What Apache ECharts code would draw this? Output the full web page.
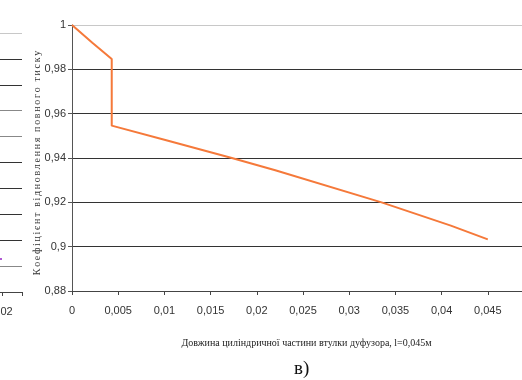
<!DOCTYPE html>
<html>
<head>
<meta charset="utf-8">
<script src="https://cdn.jsdelivr.net/npm/echarts@6/dist/echarts.min.js"></script>
<style>html,body{margin:0;padding:0;background:#fff}#c{width:522px;height:380px}</style>
</head>
<body>
<div id="c"></div>
<script>
// Main series: length of cylindrical part (m) vs total pressure recovery coefficient
var xValues = [0, 0.0022, 0.0043, 0.0043, 0.01, 0.0173, 0.022, 0.0335, 0.041, 0.045];
var yValues = [1, 0.992, 0.9847, 0.9546, 0.9482, 0.94, 0.9345, 0.92, 0.9095, 0.9033];
var yTicks = [0.88, 0.9, 0.92, 0.94, 0.96, 0.98, 1];
var xTicks = [0, 0.005, 0.01, 0.015, 0.02, 0.025, 0.03, 0.035, 0.04, 0.045];
// Fragment of the neighbouring chart (left edge)
var leftXTicks = [0.02];
var leftPoint = [[0.0199, 1.27]];

var yAxisName = 'Коефіцієнт відновлення повного тиску';
var xAxisName = 'Довжина циліндричної частини втулки дуфузора, l=0,045м';
var panelLabel = 'в)';

function fmt(v){ return String(parseFloat(Number(v).toFixed(4))).replace('.', ','); }
function spaced(s){ return s.split('').join('\u200A\u200A'); }

var mainData = xValues.map(function(x, i){ return [x, yValues[i]]; });

var chart = echarts.init(document.getElementById('c'), null, {renderer:'canvas'});
var labelFont = {fontFamily:'"Liberation Sans Narrow","Liberation Sans",Arial,sans-serif', fontSize:11, color:'#333'};
chart.setOption({
  animation:false,
  backgroundColor:'#fff',
  title:{text:panelLabel, left:289, top:355, textStyle:{fontFamily:'"Liberation Serif","DejaVu Serif",serif', fontSize:19, fontWeight:'normal', color:'#111'}},
  grid:[
    {left:72, top:25, width:462, height:266, containLabel:false, outerBoundsMode:'none'},
    {left:-198, top:33, width:220, height:259, containLabel:false, outerBoundsMode:'none'}
  ],
  xAxis:[
    {type:'value', gridIndex:0, min:0, max:0.05, interval:0.005,
     name:xAxisName, nameLocation:'middle', nameGap:47,
     nameTextStyle:{fontFamily:'"Liberation Serif","DejaVu Serif",serif', fontSize:10, color:'#222', padding:[0,0,0,7]},
     axisLine:{lineStyle:{color:'#444', width:1}},
     axisTick:{show:true, inside:false, length:4, lineStyle:{color:'#444'}},
     axisLabel:Object.assign({margin:14, formatter:function(v){ return xTicks.indexOf(parseFloat(v.toFixed(4)))>=0 ? fmt(v) : ''; }}, labelFont),
     splitLine:{show:false}},
    {type:'value', gridIndex:1, min:0, max:0.022, interval:0.005,
     axisLine:{lineStyle:{color:'#444'}},
     axisTick:{show:true, length:4, lineStyle:{color:'#444'}},
     axisLabel:Object.assign({margin:14, formatter:function(v){ return leftXTicks.indexOf(parseFloat(v.toFixed(4)))>=0 ? fmt(v) : ''; }}, labelFont),
     splitLine:{show:false}}
  ],
  yAxis:[
    {type:'value', gridIndex:0, min:0.88, max:1, interval:0.02,
     name:spaced(yAxisName), nameLocation:'middle', nameGap:30, nameMoveOverlap:false,
     nameTextStyle:{fontFamily:'"Liberation Serif","DejaVu Serif",serif', fontSize:10, color:'#333', padding:[0,10,0,0]},
     axisLine:{show:true, lineStyle:{color:'#555'}},
     axisTick:{show:true, length:4, lineStyle:{color:'#555'}},
     axisLabel:Object.assign({margin:6, formatter:function(v){ return yTicks.indexOf(parseFloat(v.toFixed(4)))>=0 ? fmt(v) : ''; }}, labelFont),
     splitLine:{show:true, lineStyle:{color:['#333','#333','#333','#333','#333','#333','#c8c8c8'], width:1}}},
    {type:'value', gridIndex:1, min:0, max:10, interval:1,
     axisLine:{show:false}, axisTick:{show:false}, axisLabel:{show:false},
     splitLine:{show:true, lineStyle:{color:['#444','#888','#333','#333','#333','#333','#888','#888','#333','#333','#c8c8c8'], width:1}}}
  ],
  series:[
    {type:'line', xAxisIndex:0, yAxisIndex:0, data:mainData, showSymbol:false, symbol:'none',
     lineStyle:{color:'#f5793a', width:2}, itemStyle:{color:'#f5793a'}},
    {type:'scatter', xAxisIndex:1, yAxisIndex:1, data:leftPoint, symbol:'rect', symbolSize:2,
     itemStyle:{color:'#9b30c8'}}
  ]
});
</script>
</body>
</html>
